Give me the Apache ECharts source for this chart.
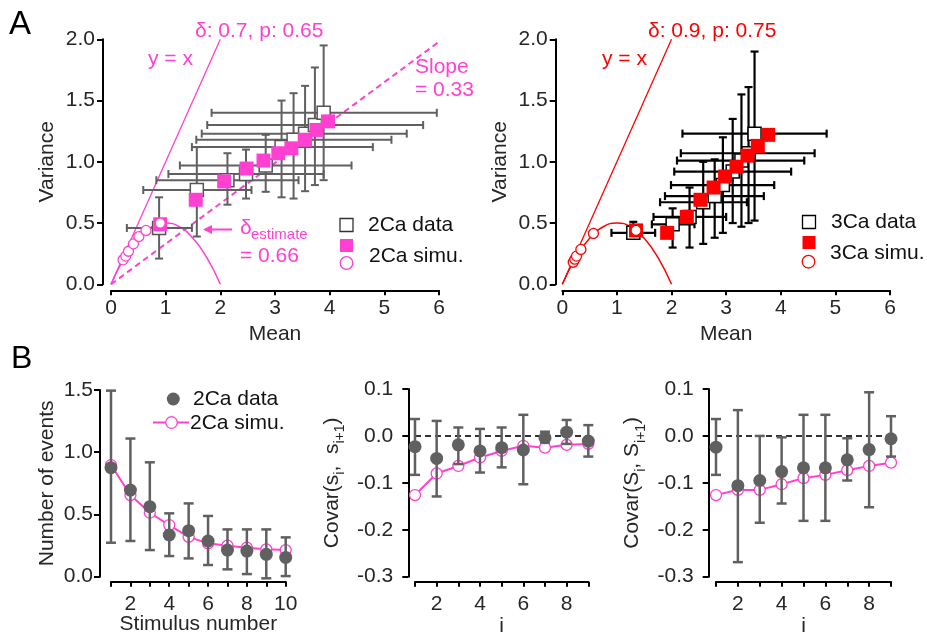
<!DOCTYPE html>
<html><head><meta charset="utf-8">
<script src="https://cdn.jsdelivr.net/npm/echarts/dist/echarts.min.js"></script>
<style>html,body{margin:0;padding:0;background:#fff}#c{width:927px;height:636px}</style>
</head><body><div id="c"></div>
<script>
// ---------- Panel A left : 2Ca ----------
const dataMean2 = [0.88, 1.57, 2.13, 2.47, 2.83, 3.12, 3.34, 3.55, 3.73, 3.89];
const dataVar2  = [0.46, 0.77, 0.85, 0.90, 0.97, 1.12, 1.18, 1.23, 1.30, 1.40];
const meanLow2  = [0.29, 0.59, 0.83, 1.05, 1.26, 1.48, 1.56, 1.66, 1.76, 1.84];
const meanHigh2 = [1.48, 2.57, 3.43, 3.89, 4.40, 4.79, 5.13, 5.41, 5.71, 5.96];
const varLow2   = [0.21, 0.39, 0.65, 0.70, 0.755, 0.71, 0.70, 0.76, 0.81, 0.85];
const varHigh2  = [0.71, 1.12, 1.07, 1.10, 1.22, 1.50, 1.56, 1.62, 1.77, 1.95];
const simMean2  = [0.90, 1.55, 2.07, 2.48, 2.79, 3.06, 3.30, 3.55, 3.76, 3.97];
const simVar2   = [0.49, 0.69, 0.84, 0.945, 1.01, 1.07, 1.11, 1.18, 1.26, 1.33];
const circMean2 = [0.22, 0.27, 0.32, 0.41, 0.51, 0.64, 0.90];
const circVar2  = [0.20, 0.23, 0.27, 0.33, 0.39, 0.44, 0.50];
const slopeX    = [0, 6];
const slopeY    = [0, 1.98];
// ---------- Panel A right : 3Ca ----------
const dataMean3 = [1.30, 2.02, 2.33, 2.58, 2.79, 2.94, 3.12, 3.28, 3.41, 3.52];
const dataVar3  = [0.42, 0.49, 0.55, 0.67, 0.72, 0.81, 0.92, 1.01, 1.07, 1.23];
const meanLow3  = [0.90, 1.64, 1.67, 1.79, 1.88, 1.99, 2.05, 2.10, 2.17, 2.20];
const meanHigh3 = [1.70, 2.42, 3.00, 3.38, 3.69, 3.88, 4.19, 4.43, 4.62, 4.84];
const varLow3   = [0.38, 0.30, 0.30, 0.33, 0.38, 0.42, 0.50, 0.47, 0.50, 0.52];
const varHigh3  = [0.51, 0.62, 0.79, 1.00, 1.02, 1.20, 1.35, 1.55, 1.61, 1.90];
const simMean3  = [1.35, 1.92, 2.28, 2.53, 2.77, 2.98, 3.19, 3.39, 3.58, 3.77];
const simVar3   = [0.44, 0.42, 0.55, 0.69, 0.79, 0.88, 0.96, 1.05, 1.13, 1.22];
const circMean3 = [0.20, 0.23, 0.26, 0.34, 0.57, 1.35];
const circVar3  = [0.18, 0.205, 0.23, 0.285, 0.415, 0.44];
// shared reference lines of panel A
const identX = [0, 2];
const identY = [0, 2];
const curveX = [0, 0.25, 0.5, 0.75, 1, 1.25, 1.5, 1.75, 2];
const curveY = [0, 0.22, 0.375, 0.47, 0.5, 0.47, 0.375, 0.22, 0];
// ---------- Panel B left ----------
const stim     = [1, 2, 3, 4, 5, 6, 7, 8, 9, 10];
const evData   = [0.876, 0.696, 0.5625, 0.335, 0.37, 0.287, 0.214, 0.206, 0.18, 0.155];
const evLow    = [0.273, 0.287, 0.214, 0.166, 0.147, 0.094, 0.059, 0.021, -0.013, 0.005];
const evHigh   = [1.495, 1.11, 0.919, 0.509, 0.589, 0.488, 0.38, 0.38, 0.38, 0.316];
const evSim    = [0.897, 0.656, 0.514, 0.415, 0.32, 0.268, 0.249, 0.233, 0.22, 0.214];
// ---------- Panel B middle / right ----------
const iIdx      = [1, 2, 3, 4, 5, 6, 7, 8, 9];
const cov1Data  = [-0.023, -0.048, -0.019, -0.032, -0.025, -0.030, -0.004, 0.008, -0.011];
const cov1Low   = [-0.083, -0.129, -0.060, -0.078, -0.067, -0.103, -0.014, -0.017, -0.044];
const cov1High  = [0.036, 0.032, 0.018, 0.015, 0.018, 0.045, 0.009, 0.034, 0.023];
const cov1Sim   = [-0.126, -0.080, -0.064, -0.046, -0.032, -0.021, -0.025, -0.019, -0.017];
const cov2Data  = [-0.024, -0.106, -0.095, -0.076, -0.068, -0.068, -0.051, -0.029, -0.006];
const cov2Low   = [-0.083, -0.269, -0.185, -0.144, -0.181, -0.181, -0.095, -0.152, -0.044];
const cov2High  = [0.036, 0.055, 0.000, -0.003, 0.045, 0.045, -0.005, 0.093, 0.042];
const cov2Sim   = [-0.126, -0.115, -0.115, -0.103, -0.090, -0.083, -0.073, -0.064, -0.057];
const zeroX = [1, 9];
const zeroY = [0, 0];

const PINK = '#ff40d0', RED = '#ff0000', GRAY = '#606060', TXT = '#262626';
const FONT = "'Liberation Sans', Arial, sans-serif";

function pairs(xs, ys) { return xs.map((x, i) => [x, ys[i]]); }
function rows(xs, ys, xl, xh, yl, yh) {
  return xs.map((x, i) => [x, ys[i], xl ? xl[i] : x, xh ? xh[i] : x, yl[i], yh[i]]);
}
function errSeries(gi, data, color, width, cap, withX) {
  return {
    type: 'custom', xAxisIndex: gi, yAxisIndex: gi, data: data, silent: true, z: 3,
    encode: { x: 0, y: 1 },
    renderItem: function (params, api) {
      const x = api.value(0), y = api.value(1);
      const ch = [];
      const seg = (a, b) => ch.push({ type: 'line', shape: { x1: a[0], y1: a[1], x2: b[0], y2: b[1] },
        style: { stroke: color, lineWidth: width } });
      const lo = api.coord([x, api.value(4)]), hi = api.coord([x, api.value(5)]);
      seg(lo, hi);
      seg([lo[0] - cap, lo[1]], [lo[0] + cap, lo[1]]);
      seg([hi[0] - cap, hi[1]], [hi[0] + cap, hi[1]]);
      if (withX) {
        const l = api.coord([api.value(2), y]), r = api.coord([api.value(3), y]);
        seg(l, r);
        seg([l[0], l[1] - cap], [l[0], l[1] + cap]);
        seg([r[0], r[1] - cap], [r[0], r[1] + cap]);
      }
      return { type: 'group', children: ch };
    }
  };
}
function lineS(gi, data, color, width, dash, smooth) {
  return { type: 'line', xAxisIndex: gi, yAxisIndex: gi, data: data, symbol: 'none', silent: true,
    smooth: !!smooth, z: 2, lineStyle: { color: color, width: width, type: dash ? [6, 4] : 'solid' } };
}
function scat(gi, data, symbol, size, fill, stroke, bw, z) {
  return { type: 'scatter', xAxisIndex: gi, yAxisIndex: gi, data: data, symbol: symbol, symbolSize: size,
    silent: true, z: z, itemStyle: { color: fill, borderColor: stroke, borderWidth: bw, opacity: 1 } };
}
const fmt1 = v => (Math.abs(v) < 1e-9 ? '0.0' : v.toFixed(1));
function xAx(gi, min, max, name, gap, offset, margin, fmt, tickLen) {
  return { gridIndex: gi, type: 'value', min: min, max: max, interval: 1, offset: offset,
    name: name, nameLocation: 'middle', nameGap: gap, nameMoveOverlap: false,
    nameTextStyle: { color: TXT, fontSize: 21, fontFamily: FONT },
    splitLine: { show: false },
    axisLine: { show: true, onZero: false, lineStyle: { color: '#000', width: 2 } },
    axisTick: { show: true, length: tickLen, lineStyle: { color: '#000', width: 2 } },
    axisLabel: { color: TXT, fontSize: 21, fontFamily: FONT, margin: margin, formatter: fmt,
      showMinLabel: true, showMaxLabel: true } };
}
function yAx(gi, min, max, interval, name, gap, offset, margin, rich) {
  const o = { gridIndex: gi, type: 'value', min: min, max: max, interval: interval, offset: offset,
    name: name, nameLocation: 'middle', nameGap: gap, nameMoveOverlap: false,
    nameTextStyle: { color: TXT, fontSize: 21, fontFamily: FONT },
    splitLine: { show: false },
    axisLine: { show: true, onZero: false, lineStyle: { color: '#000', width: 2 } },
    axisTick: { show: true, length: 6, lineStyle: { color: '#000', width: 2 } },
    axisLabel: { color: TXT, fontSize: 21, fontFamily: FONT, margin: margin, formatter: fmt1,
      showMinLabel: true, showMaxLabel: true } };
  if (rich) o.nameTextStyle.rich = rich;
  return o;
}
const covRich = {
  n: { fontSize: 21, fontFamily: FONT, color: TXT, lineHeight: 30 },
  s: { fontSize: 14, fontFamily: FONT, color: TXT, lineHeight: 14, verticalAlign: 'bottom' }
};

const series = [
  // A left
  lineS(0, pairs(identX, identY), PINK, 1.3),
  lineS(0, pairs(slopeX, slopeY), PINK, 2, true),
  lineS(0, pairs(curveX, curveY), PINK, 1.5, false, true),
  errSeries(0, rows(dataMean2, dataVar2, meanLow2, meanHigh2, varLow2, varHigh2), GRAY, 2, 4, true),
  scat(0, pairs(dataMean2, dataVar2), 'rect', 13, '#fff', '#555', 1.5, 4),
  scat(0, pairs(simMean2, simVar2), 'rect', 14, PINK, PINK, 0, 5),
  scat(0, pairs(circMean2, circVar2), 'circle', 10, '#fff', PINK, 1.3, 6),
  // A right
  lineS(1, pairs(identX, identY), RED, 1.3),
  lineS(1, pairs(curveX, curveY), RED, 1.5, false, true),
  errSeries(1, rows(dataMean3, dataVar3, meanLow3, meanHigh3, varLow3, varHigh3), '#000', 2.2, 4, true),
  scat(1, pairs(dataMean3, dataVar3), 'rect', 13, '#fff', '#000', 1.5, 4),
  scat(1, pairs(simMean3, simVar3), 'rect', 14, RED, RED, 0, 5),
  scat(1, pairs(circMean3, circVar3), 'circle', 10, '#fff', RED, 1.3, 6),
  // B left
  { type: 'line', xAxisIndex: 2, yAxisIndex: 2, data: pairs(stim, evSim), symbol: 'circle', symbolSize: 11,
    silent: true, z: 2, lineStyle: { color: PINK, width: 2 },
    itemStyle: { color: '#fff', borderColor: PINK, borderWidth: 1.3 } },
  errSeries(2, rows(stim, evData, null, null, evLow, evHigh), GRAY, 2.5, 5, false),
  scat(2, pairs(stim, evData), 'circle', 13, GRAY, GRAY, 0, 5),
  // B middle
  lineS(3, pairs(zeroX, zeroY), '#333', 2, true),
  { type: 'line', xAxisIndex: 3, yAxisIndex: 3, data: pairs(iIdx, cov1Sim), symbol: 'circle', symbolSize: 11,
    silent: true, z: 2, lineStyle: { color: PINK, width: 2 },
    itemStyle: { color: '#fff', borderColor: PINK, borderWidth: 1.3 } },
  errSeries(3, rows(iIdx, cov1Data, null, null, cov1Low, cov1High), GRAY, 2.5, 5, false),
  scat(3, pairs(iIdx, cov1Data), 'circle', 13, GRAY, GRAY, 0, 5),
  // B right
  lineS(4, pairs(zeroX, zeroY), '#333', 2, true),
  { type: 'line', xAxisIndex: 4, yAxisIndex: 4, data: pairs(iIdx, cov2Sim), symbol: 'circle', symbolSize: 11,
    silent: true, z: 2, lineStyle: { color: PINK, width: 2 },
    itemStyle: { color: '#fff', borderColor: PINK, borderWidth: 1.3 } },
  errSeries(4, rows(iIdx, cov2Data, null, null, cov2Low, cov2High), GRAY, 2.5, 5, false),
  scat(4, pairs(iIdx, cov2Data), 'circle', 13, GRAY, GRAY, 0, 5)
];

function txt(x, y, s, size, color) {
  return { type: 'text', x: x, y: y, z: 100, silent: true,
    style: { text: s, fontSize: size, fontFamily: FONT, fill: color, align: 'left', verticalAlign: 'middle' } };
}
const graphic = [
  txt(9, 25, 'A', 33, '#000'),
  txt(11, 359, 'B', 32, '#000'),
  // A left annotations
  txt(195, 31, 'δ: 0.7, p: 0.65', 21, PINK),
  txt(148, 59, 'y = x', 21, PINK),
  txt(415, 67, 'Slope', 21, PINK),
  txt(415, 90, '= 0.33', 21, PINK),
  txt(240, 228, 'δ', 21, PINK),
  txt(251, 235, 'estimate', 15, PINK),
  txt(240, 256, '= 0.66', 21, PINK),
  { type: 'line', z: 100, silent: true, shape: { x1: 232, y1: 229.5, x2: 210, y2: 229.5 }, style: { stroke: PINK, lineWidth: 2 } },
  { type: 'polygon', z: 100, silent: true, shape: { points: [[203, 229.5], [212, 225], [212, 234]] }, style: { fill: PINK } },
  // A left legend
  { type: 'rect', z: 100, silent: true, shape: { x: 340, y: 218.5, width: 13, height: 13 }, style: { fill: '#fff', stroke: '#333', lineWidth: 1.3 } },
  { type: 'rect', z: 100, silent: true, shape: { x: 340, y: 239, width: 13, height: 13 }, style: { fill: PINK } },
  { type: 'circle', z: 100, silent: true, shape: { cx: 346.5, cy: 263, r: 6.3 }, style: { fill: '#fff', stroke: PINK, lineWidth: 1.3 } },
  txt(368, 225, '2Ca data', 21, '#111'),
  txt(369, 256, '2Ca simu.', 21, '#111'),
  // A right annotations
  txt(648, 31, 'δ: 0.9, p: 0.75', 21, RED),
  txt(602, 59, 'y = x', 21, RED),
  { type: 'rect', z: 100, silent: true, shape: { x: 802.5, y: 215.5, width: 13, height: 13 }, style: { fill: '#fff', stroke: '#000', lineWidth: 1.3 } },
  { type: 'rect', z: 100, silent: true, shape: { x: 802.5, y: 236, width: 13, height: 13 }, style: { fill: RED } },
  { type: 'circle', z: 100, silent: true, shape: { cx: 808.5, cy: 261.7, r: 6.3 }, style: { fill: '#fff', stroke: RED, lineWidth: 1.3 } },
  txt(831, 222, '3Ca data', 21, '#111'),
  txt(830, 253, '3Ca simu.', 21, '#111'),
  // B legend
  { type: 'circle', z: 100, silent: true, shape: { cx: 173.3, cy: 399, r: 6.5 }, style: { fill: GRAY } },
  txt(193, 399, '2Ca data', 21, '#111'),
  { type: 'line', z: 100, silent: true, shape: { x1: 153, y1: 422.5, x2: 189, y2: 422.5 }, style: { stroke: PINK, lineWidth: 2 } },
  { type: 'circle', z: 101, silent: true, shape: { cx: 171.5, cy: 422.5, r: 5.8 }, style: { fill: '#fff', stroke: PINK, lineWidth: 1.3 } },
  txt(190, 423, '2Ca simu.', 21, '#111')
];

const option = {
  backgroundColor: '#fff',
  animation: false,
  grid: [
    { left: 111, top: 39.3, width: 328, height: 245, outerBoundsMode: 'none' },
    { left: 562.3, top: 39.3, width: 327.7, height: 245, outerBoundsMode: 'none' },
    { left: 111, top: 390, width: 174.7, height: 186.7, outerBoundsMode: 'none' },
    { left: 415, top: 389, width: 173.3, height: 187.7, outerBoundsMode: 'none' },
    { left: 716, top: 389, width: 175, height: 187.7, outerBoundsMode: 'none' }
  ],
  xAxis: [
    xAx(0, 0, 6, 'Mean', 33, 6, 7, v => String(v), 5),
    xAx(1, 0, 6, 'Mean', 33, 6, 7, v => String(v), 5),
    xAx(2, 1, 10, 'Stimulus number', 32, 5, 12, v => (v % 2 === 0 ? String(v) : ''), 5),
    xAx(3, 1, 9, 'i', 34, 5, 12, v => (v % 2 === 0 ? String(v) : ''), 5),
    xAx(4, 1, 9, 'i', 34, 5, 12, v => (v % 2 === 0 ? String(v) : ''), 5)
  ],
  yAxis: [
    yAx(0, 0, 2, 0.5, 'Variance', 45, 8, 8),
    yAx(1, 0, 2, 0.5, 'Variance', 45, 6.6, 8),
    yAx(2, 0, 1.5, 0.5, 'Number of events', 42, 11, 7),
    yAx(3, -0.3, 0.1, 0.1, '{n|Covar(s}{s|i}{n|,  s}{s|i+1}{n|)}', 61, 6.7, 15, covRich),
    yAx(4, -0.3, 0.1, 0.1, '{n|Covar(S}{s|i}{n|, S}{s|i+1}{n|)}', 61, 7.3, 15, covRich)
  ],
  series: series,
  graphic: graphic
};
const chart = echarts.init(document.getElementById('c'), null, { renderer: 'canvas' });
chart.setOption(option);
</script></body></html>
